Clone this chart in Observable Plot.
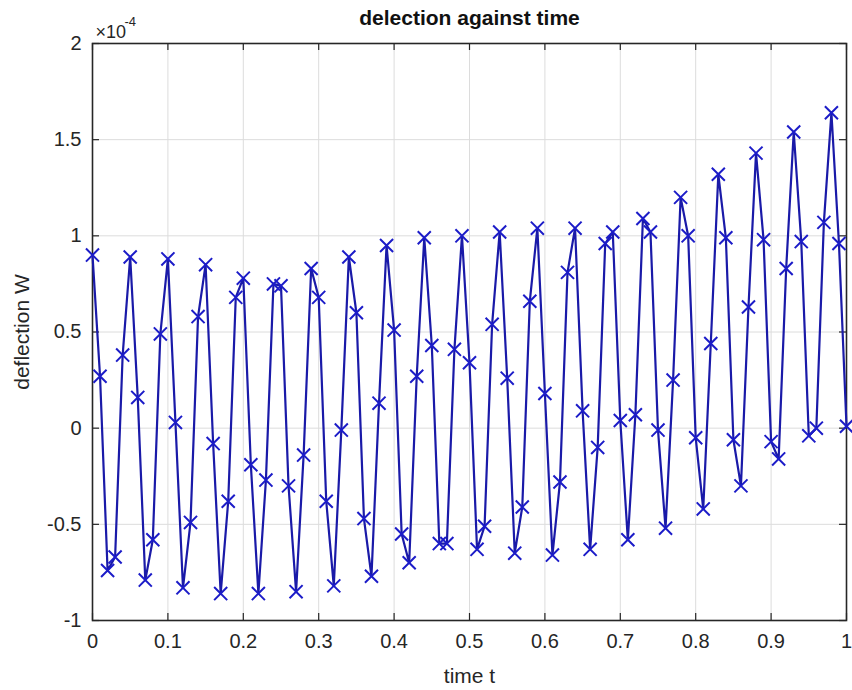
<!DOCTYPE html>
<html>
<head>
<meta charset="utf-8">
<script src="https://cdn.jsdelivr.net/npm/d3@7"></script>
<script src="https://cdn.jsdelivr.net/npm/@observablehq/plot@0.6"></script>
<style>
  html, body { margin: 0; padding: 0; background: #ffffff; }
  #chart svg { display: block; }
</style>
</head>
<body>
<div id="chart"></div>
<script>
// time t
const time = [
  0.00,0.01,0.02,0.03,0.04,0.05,0.06,0.07,0.08,0.09,
  0.10,0.11,0.12,0.13,0.14,0.15,0.16,0.17,0.18,0.19,
  0.20,0.21,0.22,0.23,0.24,0.25,0.26,0.27,0.28,0.29,
  0.30,0.31,0.32,0.33,0.34,0.35,0.36,0.37,0.38,0.39,
  0.40,0.41,0.42,0.43,0.44,0.45,0.46,0.47,0.48,0.49,
  0.50,0.51,0.52,0.53,0.54,0.55,0.56,0.57,0.58,0.59,
  0.60,0.61,0.62,0.63,0.64,0.65,0.66,0.67,0.68,0.69,
  0.70,0.71,0.72,0.73,0.74,0.75,0.76,0.77,0.78,0.79,
  0.80,0.81,0.82,0.83,0.84,0.85,0.86,0.87,0.88,0.89,
  0.90,0.91,0.92,0.93,0.94,0.95,0.96,0.97,0.98,0.99,
  1.00
];
// deflection W, in units of 1e-4
const deflection = [
  0.90,0.27,-0.74,-0.67,0.38,0.89,0.16,-0.79,-0.58,0.49,
  0.88,0.03,-0.83,-0.49,0.58,0.85,-0.08,-0.86,-0.38,0.68,
  0.78,-0.19,-0.86,-0.27,0.75,0.74,-0.30,-0.85,-0.14,0.83,
  0.68,-0.38,-0.82,-0.01,0.89,0.60,-0.47,-0.77,0.13,0.95,
  0.51,-0.55,-0.70,0.27,0.99,0.43,-0.60,-0.60,0.41,1.00,
  0.34,-0.63,-0.51,0.54,1.02,0.26,-0.65,-0.41,0.66,1.04,
  0.18,-0.66,-0.28,0.81,1.04,0.09,-0.63,-0.10,0.96,1.02,
  0.04,-0.58,0.07,1.09,1.02,-0.01,-0.52,0.25,1.20,1.00,
  -0.05,-0.42,0.44,1.32,0.99,-0.06,-0.30,0.63,1.43,0.98,
  -0.07,-0.16,0.83,1.54,0.97,-0.04,0.00,1.07,1.64,0.96,
  0.01
];
const xTicks = [0,0.1,0.2,0.3,0.4,0.5,0.6,0.7,0.8,0.9,1];
const xTickLabels = ["0","0.1","0.2","0.3","0.4","0.5","0.6","0.7","0.8","0.9","1"];
const yTicks = [-1,-0.5,0,0.5,1,1.5,2];
const yTickLabels = ["-1","-0.5","0","0.5","1","1.5","2"];
const titleText = "delection against time";
const xLabel = "time t";
const yLabel = "deflection W";
const exponentBase = "\u00d710";
const exponentPower = "-4";

const data = time.map((t, i) => ({t, w: deflection[i]}));

const W = 852, H = 690;
const mL = 92, mR = 6, mT = 43, mB = 70;
const xDom = [0, 1], yDom = [-1, 2];
const tickPx = 7;
const tickLenY = tickPx * (yDom[1] - yDom[0]) / (H - mT - mB);
const tickLenX = tickPx * (xDom[1] - xDom[0]) / (W - mL - mR);

const font = "'Liberation Sans', Arial, Helvetica, sans-serif";
const axisColor = "#262626";
const lineColor = "#1a1aa8";
const markColor = "#1c1cc8";

const chart = Plot.plot({
  width: W, height: H,
  marginLeft: mL, marginRight: mR, marginTop: mT, marginBottom: mB,
  style: {fontFamily: font, background: "#ffffff", overflow: "visible"},
  x: {domain: xDom},
  y: {domain: yDom},
  marks: [
    Plot.ruleX(xTicks, {stroke: "#dcdcdc", strokeWidth: 1}),
    Plot.ruleY(yTicks, {stroke: "#dcdcdc", strokeWidth: 1}),
    // inward ticks: bottom/top
    Plot.ruleX(xTicks, {x: d => d, y1: yDom[0], y2: yDom[0] + tickLenY, stroke: axisColor, strokeWidth: 1.2}),
    Plot.ruleX(xTicks, {x: d => d, y1: yDom[1], y2: yDom[1] - tickLenY, stroke: axisColor, strokeWidth: 1.2}),
    // inward ticks: left/right
    Plot.ruleY(yTicks, {y: d => d, x1: xDom[0], x2: xDom[0] + tickLenX, stroke: axisColor, strokeWidth: 1.2}),
    Plot.ruleY(yTicks, {y: d => d, x1: xDom[1], x2: xDom[1] - tickLenX, stroke: axisColor, strokeWidth: 1.2}),
    Plot.frame({stroke: axisColor, strokeWidth: 1.6}),
    Plot.axisX(xTicks, {anchor: "bottom", tickSize: 0, tickPadding: 13, fontSize: 20, fill: axisColor,
      tickFormat: (d, i) => xTickLabels[i], label: null}),
    Plot.axisY(yTicks, {anchor: "left", tickSize: 0, tickPadding: 11, fontSize: 20, fill: axisColor,
      tickFormat: (d, i) => yTickLabels[i], label: null}),
    Plot.line(data, {x: "t", y: "w", stroke: lineColor, strokeWidth: 2.2}),
    Plot.dot(data, {x: "t", y: "w", symbol: "times", r: 6, stroke: markColor, strokeWidth: 2}),
    Plot.text([titleText], {frameAnchor: "top", dy: -33, fontSize: 21, fontWeight: "bold", fill: "#111"}),
    Plot.text([exponentBase], {frameAnchor: "top-left", dx: 3, dy: -18, fontSize: 18, textAnchor: "start", fill: axisColor}),
    Plot.text([exponentPower], {frameAnchor: "top-left", dx: 32, dy: -27, fontSize: 13, textAnchor: "start", fill: axisColor}),
    Plot.text([xLabel], {frameAnchor: "bottom", dy: 62, fontSize: 21, fill: axisColor}),
    Plot.text([yLabel], {frameAnchor: "left", dx: -70, rotate: -90, textAnchor: "middle", fontSize: 21, fill: axisColor})
  ]
});
document.getElementById("chart").appendChild(chart);
</script>
</body>
</html>
